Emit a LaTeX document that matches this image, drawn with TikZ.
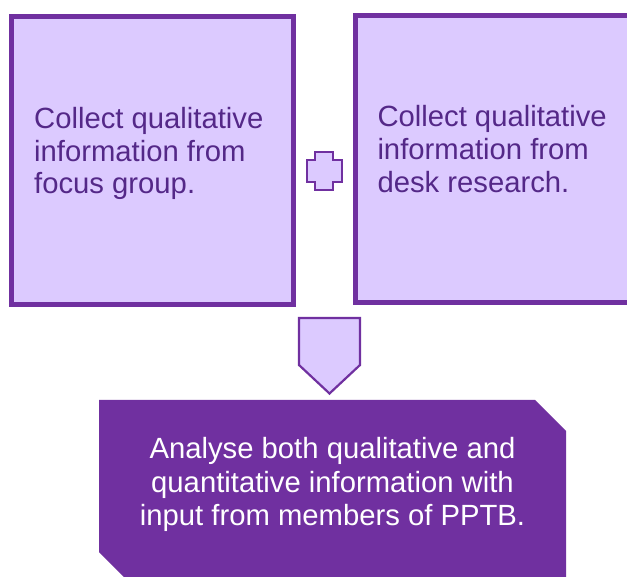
\documentclass[tikz,border=0pt]{standalone}
\usepackage{fontspec}
\setmainfont{Liberation Sans}
\definecolor{pborder}{RGB}{112,48,160}
\definecolor{pfill}{RGB}{220,202,255}
\definecolor{ptext}{RGB}{84,40,136}
\tikzset{
  stepbox/.style={draw=pborder, fill=pfill, line width=5pt, rectangle, inner sep=0pt},
  smallshape/.style={draw=pborder, fill=pfill, line width=2.2pt},
  toptext/.style={anchor=north west, inner sep=0pt, align=left, text=ptext,
    font=\fontsize{29.25}{32.7}\selectfont},
  bottext/.style={anchor=north, inner sep=0pt, align=center, text=white,
    font=\fontsize{29.25}{33.7}\selectfont}
}
\begin{document}
\begin{tikzpicture}[x=1pt,y=-1pt]
\useasboundingbox (0,0) rectangle (627,577);
\clip (0,0) rectangle (627,577);
\fill[white] (0,0) rectangle (627,577);
% top boxes
\node[stepbox, minimum width=282pt, minimum height=288pt] (boxA) at (152.5,160.5) {};
\node[stepbox, minimum width=284.5pt, minimum height=287.5pt] (boxB) at (497.75,159.25) {};
\node[toptext] (textA) at (34,107.1) {Collect qualitative\\information from\\focus group.};
\node[toptext] (textB) at (377.3,105.4) {Collect qualitative\\information from\\desk research.};
% plus sign
\draw[smallshape] (315,152) -- (333,152) -- (333,160) -- (342,160) -- (342,182)
  -- (333,182) -- (333,190) -- (315,190) -- (315,182) -- (307,182) -- (307,160)
  -- (315,160) -- cycle;
% down arrow (pentagon)
\draw[smallshape] (299,318) -- (360,318) -- (360,365) -- (329.5,393.5) -- (299,365) -- cycle;
% bottom box
\fill[pborder] (99,400) -- (535,400) -- (566,431) -- (566,600) -- (147,600) -- (99,552) -- cycle;
\node[bottext] (textC) at (332.5,437) {Analyse both qualitative and\\quantitative information with\\input from members of PPTB.};
\end{tikzpicture}
\end{document}
